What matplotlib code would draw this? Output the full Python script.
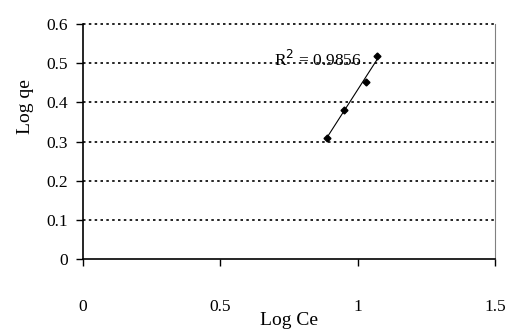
import numpy as np
import matplotlib.pyplot as plt

plt.rcParams['font.family'] = ['Liberation Serif', 'DejaVu Serif']

log_ce = [0.887, 0.948, 1.029, 1.069]
log_qe = [0.310, 0.380, 0.451, 0.518]
r2_text = "R$^2$ = 0.9856"
yticks = [0, 0.1, 0.2, 0.3, 0.4, 0.5, 0.6]
xticks = [0, 0.5, 1, 1.5]

fig = plt.figure(figsize=(5.1, 3.35), dpi=100)
ax = fig.add_axes([0.163, 0.227, 0.808, 0.701])

# trend line
k, b = np.polyfit(log_ce, log_qe, 1)
xs = np.array([min(log_ce), max(log_ce)])
ax.plot(xs, k * xs + b, color="black", lw=0.8)
ax.plot(log_ce, log_qe, "D", color="black", ms=3.5)

ax.text(0.695, 0.492, r2_text, fontsize=12.5)

ax.set_xlim(0, 1.5)
ax.set_ylim(0, 0.6)
ax.set_xticks(xticks)
ax.set_xticklabels(["0", "0.5", "1", "1.5"])
ax.set_yticks(yticks)
ax.set_yticklabels(["0", "0.1", "0.2", "0.3", "0.4", "0.5", "0.6"])

for y in yticks[1:]:
    ax.axhline(y, color="black", lw=1.2, ls=(0, (1.5, 2)), zorder=0, clip_on=False)

ax.spines["top"].set_visible(False)
ax.spines["right"].set_color("#808080")
ax.spines["right"].set_linewidth(0.8)
ax.spines["left"].set_linewidth(1.2)
ax.spines["bottom"].set_linewidth(1.2)
ax.tick_params(axis="y", direction="out", length=5, width=1.0, labelsize=12.5, pad=6)
ax.tick_params(axis="x", direction="out", length=5, width=1.0, labelsize=12.5, pad=24)

ax.set_xlabel("Log Ce", fontsize=14, labelpad=-2)
ax.set_ylabel("Log qe", fontsize=14)
ax.yaxis.set_label_coords(-0.12, 0.65)

fig.savefig("out.png", dpi=100)
